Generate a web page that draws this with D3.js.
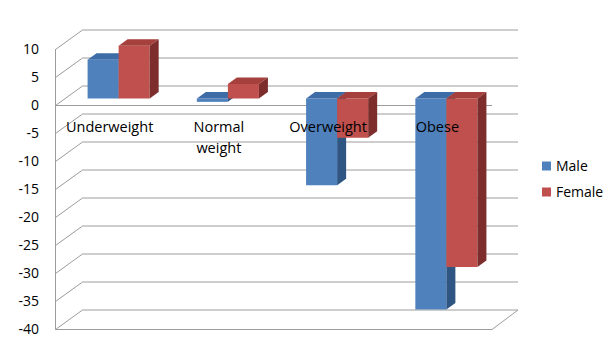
<!DOCTYPE html>
<html><head><meta charset="utf-8">
<script src="https://cdn.jsdelivr.net/npm/d3@7"></script>
<style>body{margin:0;background:#fff}svg{display:block}text{font-family:"Open Sans",sans-serif;fill:#000}</style>
</head><body><svg id="c" width="615" height="347"></svg>
<script>
const categories = ["Underweight", "Normal weight", "Overweight", "Obese"];
const seriesNames = ["Male", "Female"];
const maleValues = [6.9, -0.6, -15.5, -37.7];
const femaleValues = [9.4, 2.6, -7.0, -30.1];
const yTicks = [10, 5, 0, -5, -10, -15, -20, -25, -30, -35, -40];

const colors = {
  Male: {front: "#4F81BD", top: "#3D6CA7", side: "#2F5583"},
  Female: {front: "#C0504D", top: "#A5403D", side: "#7D2E2C"}
};
const DX = 27, DY = -19.5;
const svg = d3.select("#c");
const y = d3.scaleLinear().domain([-40, 10]).range([329, 49]);
const x = d3.scaleBand().domain(categories).range([55, 492]);
const xs = d3.scaleBand().domain(seriesNames).range([0, x.bandwidth()]).paddingInner(0).paddingOuter(0.76);
const grid = "#9C9C9C";

const g = svg.append("g");
// gridlines on wall
yTicks.forEach(t => {
  const yy = Math.round(y(t)) + 0.5;
  g.append("path").attr("d", `M55.5,${yy}L${55.5+DX},${yy+DY}H518`).attr("fill","none").attr("stroke",grid);
});
// left wall vertical
g.append("line").attr("x1",55.5).attr("x2",55.5).attr("y1",Math.round(y(10))).attr("y2",Math.round(y(-40))+0.5).attr("stroke",grid);
// floor
const yf = Math.round(y(-40)) + 0.5;
g.append("path").attr("d", `M55.5,${yf}H492L518,${yf+DY}`).attr("fill","none").attr("stroke",grid);
// category axis at 0
const y0 = Math.round(y(0)) + 0.5;
g.append("line").attr("x1",55.5).attr("x2",492).attr("y1",y0).attr("y2",y0).attr("stroke",grid);

// y tick labels
svg.append("g").selectAll("text").data(yTicks).join("text")
  .attr("x", 39).attr("y", d => y(d)).attr("dy", "0.35em").attr("text-anchor","end")
  .attr("font-size", 14).text(d => d);

// bars
const dx = DX/3, dy = DY/3;
const bars = svg.append("g");
categories.forEach((c, i) => {
  [["Male", maleValues[i]], ["Female", femaleValues[i]]].forEach(([s, v]) => {
    const x0 = x(c) + xs(s) + dx, x1 = x0 + xs.bandwidth();
    const yT = y(Math.max(v, 0)) + dy, yB = y(Math.min(v, 0)) + dy;
    const col = colors[s];
    bars.append("polygon").attr("points", [[x0,yT],[x1,yT],[x1,yB],[x0,yB]].join(" ")).attr("fill", col.front);
    bars.append("polygon").attr("points", [[x0,yT],[x1,yT],[x1+dx,yT+dy],[x0+dx,yT+dy]].join(" ")).attr("fill", col.top);
    bars.append("polygon").attr("points", [[x1,yT],[x1+dx,yT+dy],[x1+dx,yB+dy],[x1,yB]].join(" ")).attr("fill", col.side);
  });
});

// category labels
const lab = svg.append("g");
categories.forEach(c => {
  const words = c.split(" ");
  const lines = [];
  let cur = "";
  const tmp = lab.append("text").attr("font-size", 14.5);
  words.forEach(w => {
    const test = cur ? cur + " " + w : w;
    tmp.text(test);
    if (cur && tmp.node().getComputedTextLength() > 80) { lines.push(cur); cur = w; } else cur = test;
  });
  lines.push(cur);
  tmp.remove();
  const t = lab.append("text").attr("font-size", 14.5).attr("text-anchor", "middle");
  lines.forEach((l, k) => t.append("tspan").attr("x", x(c) + x.bandwidth()/2).attr("y", 132 + k*21).text(l));
});

// legend
const leg = svg.append("g");
seriesNames.forEach((s, i) => {
  const cy = 166 + i*26;
  leg.append("rect").attr("x", 542).attr("y", cy - 4.5).attr("width", 9).attr("height", 9).attr("fill", colors[s].front);
  leg.append("text").attr("x", 556).attr("y", cy).attr("dy","0.35em").attr("font-size", 14).text(s);
});
</script></body></html>
